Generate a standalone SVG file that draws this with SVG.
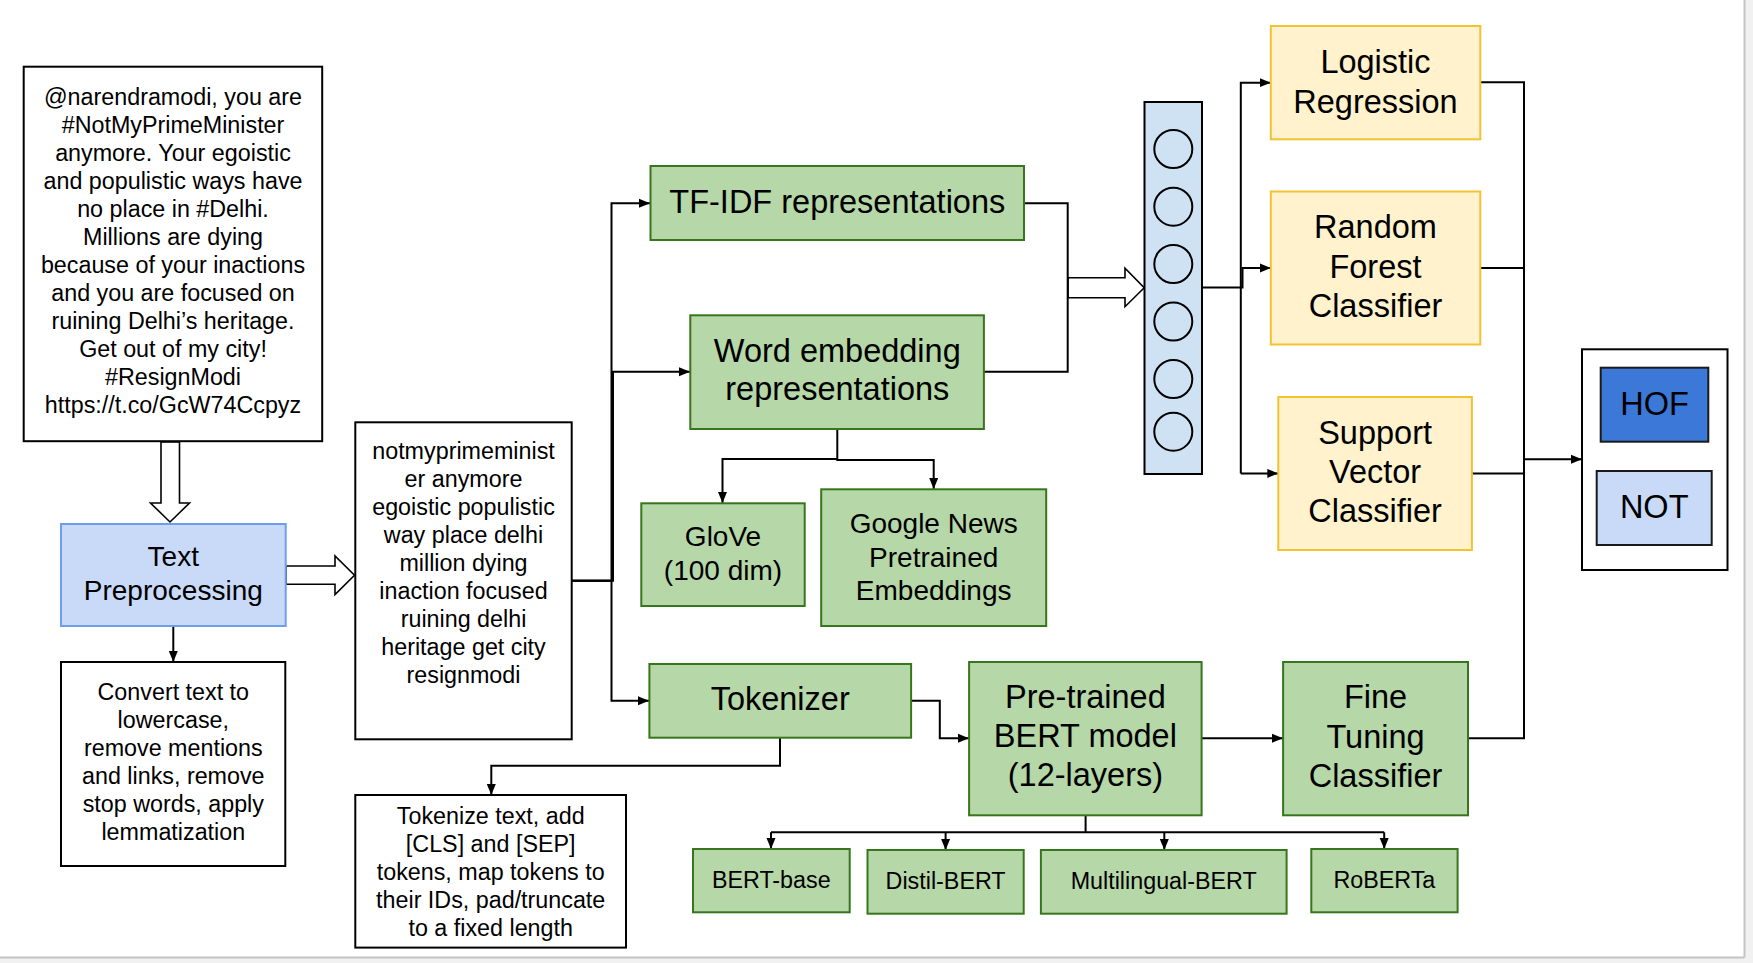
<svg xmlns="http://www.w3.org/2000/svg" width="1753" height="963" viewBox="0 0 1753 963">
<style>
text{font-family:"Liberation Sans",Arial,sans-serif;fill:#000;text-anchor:middle}
.s23{font-size:23.3px}
.s28{font-size:28px}
.s32{font-size:32.5px}
.plain{fill:#fff;stroke:#000;stroke-width:2}
.green{fill:#b6d7a8;stroke:#38761d;stroke-width:2}
.yellow{fill:#fff2cc;stroke:#f1c232;stroke-width:2}
.blue{fill:#c9daf8;stroke:#6d9eeb;stroke-width:2}
.conn path{fill:none;stroke:#000;stroke-width:2}
.conn path.arr{marker-end:url(#ah)}
.hollow{fill:#fff;stroke:#000;stroke-width:1.6;stroke-linejoin:miter}
</style>
<defs>
<marker id="ah" markerUnits="userSpaceOnUse" markerWidth="12" markerHeight="10" refX="11" refY="5" orient="auto">
<path d="M0,0.5 L11,5 L0,9.5 Z" fill="#000"/>
</marker>
</defs>
<rect x="0" y="0" width="1753" height="963" fill="#fff"/>
<rect x="1745" y="0" width="8" height="963" fill="#f1f1f1"/>
<rect x="0" y="958" width="1753" height="5" fill="#f1f1f1"/>
<line x1="1744.5" y1="0" x2="1744.5" y2="957.5" stroke="#c4c4c4" stroke-width="2"/>
<line x1="0" y1="957.5" x2="1744.5" y2="957.5" stroke="#c4c4c4" stroke-width="2"/>

<g id="connectors" class="conn">
<polygon class="hollow" points="161,442 161,503 150.5,503 170,522 189.5,503 179.5,503 179.5,442"/>
<polygon class="hollow" points="286,566 335,566 335,556 354.5,575.2 335,594.6 335,584.2 286,584.2"/>
<polygon class="hollow" points="1068,277.7 1125,277.7 1125,268.3 1144.2,287.7 1125,306.7 1125,297.7 1068,297.7"/>
<path class="arr" d="M173.3,627 V662"/>
<path class="arr" d="M572,580.7 H611.5 V203.3 H650"/>
<path class="arr" d="M572,580.7 H613 V371.7 H690"/>
<path class="arr" d="M572,580.7 H611.5 V700.7 H649"/>
<path d="M1024,203.3 H1067.7 V371.7 H984"/>
<path class="arr" d="M837.3,429 V459 H722.5 V503"/>
<path class="arr" d="M837.3,459 V460 H933.7 V489"/>
<path d="M1202,287.4 H1240.8"/>
<path class="arr" d="M1240.8,473.4 V82.7 H1270.8"/>
<path class="arr" d="M1240.8,287.4 H1242.5 V268 H1270.8"/>
<path class="arr" d="M1240.8,473.4 H1278.3"/>
<path d="M1480,82.3 H1524 V738.3 H1468"/>
<path d="M1480,268 H1524"/>
<path d="M1472,473.4 H1524"/>
<path class="arr" d="M1524,459.2 H1582"/>
<path class="arr" d="M780,738 V765.7 H491.3 V795"/>
<path class="arr" d="M911,700.7 H939.8 V738.3 H969"/>
<path class="arr" d="M1201.6,738.3 H1283"/>
<path d="M1085.6,815.3 V832.3 M771,832.3 H1384.2"/>
<path class="arr" d="M771,832.3 V849"/>
<path class="arr" d="M945.6,832.3 V850"/>
<path class="arr" d="M1164.3,832.3 V850"/>
<path class="arr" d="M1384.2,832.3 V849"/>
</g>

<g id="tweet">
<rect class="plain" x="23.7" y="66.7" width="298.5" height="374.5"/>
<text class="s23" x="173" y="105">@narendramodi, you are</text>
<text class="s23" x="173" y="133">#NotMyPrimeMinister</text>
<text class="s23" x="173" y="161">anymore. Your egoistic</text>
<text class="s23" x="173" y="189">and populistic ways have</text>
<text class="s23" x="173" y="217">no place in #Delhi.</text>
<text class="s23" x="173" y="245">Millions are dying</text>
<text class="s23" x="173" y="273">because of your inactions</text>
<text class="s23" x="173" y="301">and you are focused on</text>
<text class="s23" x="173" y="329">ruining Delhi’s heritage.</text>
<text class="s23" x="173" y="357">Get out of my city!</text>
<text class="s23" x="173" y="385">#ResignModi</text>
<text class="s23" x="173" y="413">https://t.co/GcW74Ccpyz</text>
</g>

<g id="preprocessing">
<rect class="blue" x="61" y="524" width="224.7" height="102"/>
<text class="s28" x="173.3" y="566">Text</text>
<text class="s28" x="173.3" y="600">Preprocessing</text>
</g>

<g id="convert">
<rect class="plain" x="61" y="662" width="224.3" height="204"/>
<text class="s23" x="173.3" y="700">Convert text to</text>
<text class="s23" x="173.3" y="728">lowercase,</text>
<text class="s23" x="173.3" y="756">remove mentions</text>
<text class="s23" x="173.3" y="784">and links, remove</text>
<text class="s23" x="173.3" y="812">stop words, apply</text>
<text class="s23" x="173.3" y="840">lemmatization</text>
</g>

<g id="cleaned">
<rect class="plain" x="355.3" y="422.3" width="216.4" height="317"/>
<text class="s23" x="463.5" y="459">notmyprimeminist</text>
<text class="s23" x="463.5" y="487">er anymore</text>
<text class="s23" x="463.5" y="515">egoistic populistic</text>
<text class="s23" x="463.5" y="543">way place delhi</text>
<text class="s23" x="463.5" y="571">million dying</text>
<text class="s23" x="463.5" y="599">inaction focused</text>
<text class="s23" x="463.5" y="627">ruining delhi</text>
<text class="s23" x="463.5" y="655">heritage get city</text>
<text class="s23" x="463.5" y="683">resignmodi</text>
</g>

<g id="tokenize-desc">
<rect class="plain" x="355.3" y="795" width="270.7" height="152.6"/>
<text class="s23" x="490.7" y="824">Tokenize text, add</text>
<text class="s23" x="490.7" y="852">[CLS] and [SEP]</text>
<text class="s23" x="490.7" y="880">tokens, map tokens to</text>
<text class="s23" x="490.7" y="908">their IDs, pad/truncate</text>
<text class="s23" x="490.7" y="936">to a fixed length</text>
</g>

<g id="tfidf">
<rect class="green" x="650.5" y="166" width="373.5" height="74"/>
<text class="s32" x="837.3" y="213">TF-IDF representations</text>
</g>

<g id="word-embedding">
<rect class="green" x="690.3" y="315.3" width="293.6" height="113.7"/>
<text class="s32" x="837.3" y="362">Word embedding</text>
<text class="s32" x="837.3" y="400">representations</text>
</g>

<g id="glove">
<rect class="green" x="641.3" y="503.3" width="163.4" height="102.7"/>
<text class="s28" x="723" y="546">GloVe</text>
<text class="s28" x="723" y="580">(100 dim)</text>
</g>

<g id="google-news">
<rect class="green" x="821.2" y="489.3" width="225" height="136.7"/>
<text class="s28" x="933.7" y="533">Google News</text>
<text class="s28" x="933.7" y="567">Pretrained</text>
<text class="s28" x="933.7" y="600">Embeddings</text>
</g>

<g id="tokenizer">
<rect class="green" x="649.4" y="664" width="261.7" height="73.7"/>
<text class="s32" x="780.2" y="710">Tokenizer</text>
</g>

<g id="bert">
<rect class="green" x="969.1" y="662" width="232.5" height="153.3"/>
<text class="s32" x="1085.4" y="708">Pre-trained</text>
<text class="s32" x="1085.4" y="747">BERT model</text>
<text class="s32" x="1085.4" y="786">(12-layers)</text>
</g>

<g id="fine-tuning">
<rect class="green" x="1283.1" y="662" width="184.9" height="153.3"/>
<text class="s32" x="1375.5" y="708">Fine</text>
<text class="s32" x="1375.5" y="748">Tuning</text>
<text class="s32" x="1375.5" y="787">Classifier</text>
</g>

<g id="bert-base">
<rect class="green" x="693" y="849" width="156.7" height="63.3"/>
<text class="s23" x="771.3" y="888">BERT-base</text>
</g>
<g id="distil-bert">
<rect class="green" x="867.5" y="850" width="156.2" height="63.7"/>
<text class="s23" x="945.6" y="889">Distil-BERT</text>
</g>
<g id="multilingual-bert">
<rect class="green" x="1040.9" y="850" width="245.7" height="63.7"/>
<text class="s23" x="1163.7" y="889">Multilingual-BERT</text>
</g>
<g id="roberta">
<rect class="green" x="1311.3" y="849" width="146.3" height="63.3"/>
<text class="s23" x="1384.4" y="888">RoBERTa</text>
</g>

<g id="vector">
<rect x="1144.5" y="102" width="57.5" height="372" fill="#cfe2f3" stroke="#000" stroke-width="2"/>
<g fill="none" stroke="#000" stroke-width="2">
<circle cx="1173.3" cy="149" r="19"/>
<circle cx="1173.3" cy="206.7" r="19"/>
<circle cx="1173.3" cy="264" r="19"/>
<circle cx="1173.3" cy="321.5" r="19"/>
<circle cx="1173.3" cy="379" r="19"/>
<circle cx="1173.3" cy="431.7" r="19"/>
</g>
</g>

<g id="logistic-regression">
<rect class="yellow" x="1270.8" y="26" width="209.5" height="113.3"/>
<text class="s32" x="1375.5" y="73">Logistic</text>
<text class="s32" x="1375.5" y="113">Regression</text>
</g>

<g id="random-forest">
<rect class="yellow" x="1270.8" y="191.5" width="209.5" height="153"/>
<text class="s32" x="1375.5" y="238">Random</text>
<text class="s32" x="1375.5" y="277.5">Forest</text>
<text class="s32" x="1375.5" y="317">Classifier</text>
</g>

<g id="svc">
<rect class="yellow" x="1278.3" y="397" width="193.6" height="153"/>
<text class="s32" x="1375.1" y="444">Support</text>
<text class="s32" x="1375.1" y="483">Vector</text>
<text class="s32" x="1375.1" y="522.4">Classifier</text>
</g>

<g id="output">
<rect class="plain" x="1582" y="349.3" width="145.5" height="220.7"/>
<rect x="1600.7" y="367.7" width="107.6" height="74" fill="#3c78d8" stroke="#1a1a1a" stroke-width="2"/>
<text class="s32" x="1654.5" y="415">HOF</text>
<rect x="1596.7" y="471" width="115" height="74" fill="#c9daf8" stroke="#1a1a1a" stroke-width="2"/>
<text class="s32" x="1654.2" y="517.5">NOT</text>
</g>
</svg>
